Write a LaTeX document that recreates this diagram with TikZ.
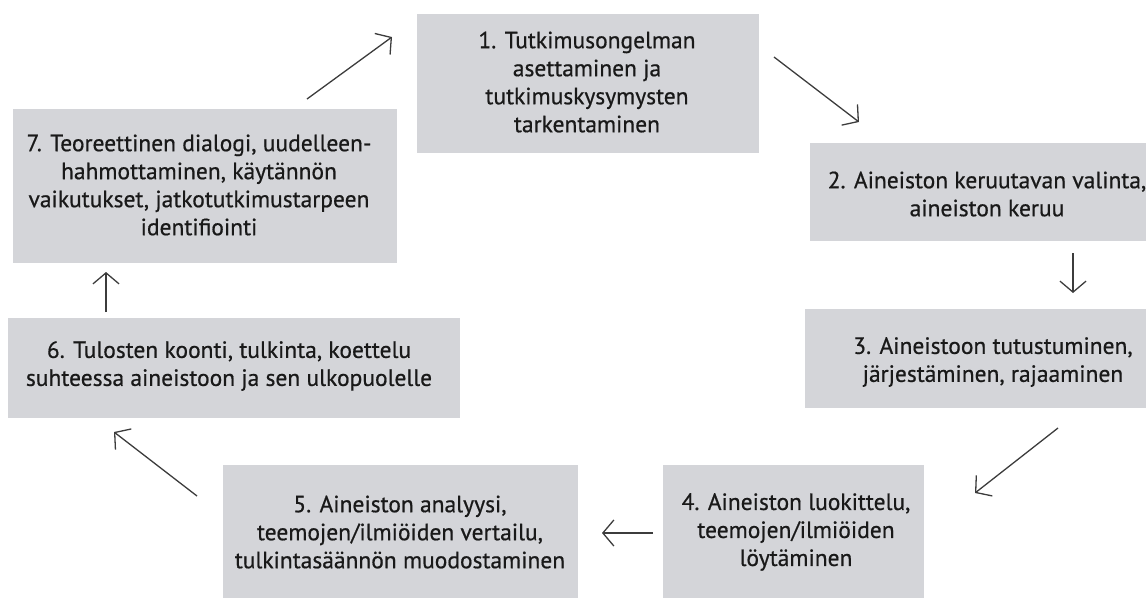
\documentclass[tikz,border=0pt]{standalone}
\usepackage{fontspec}
\setmainfont{PT Sans}[RawFeature={embolden=0.6}]
\usetikzlibrary{arrows.meta}
\definecolor{boxgrey}{RGB}{212,213,217}
\definecolor{txt}{RGB}{25,25,25}
\definecolor{arr}{RGB}{60,60,60}
\tikzset{
  stepbox/.style={fill=boxgrey, draw=none},
  steptext/.style={align=center, inner sep=0pt, text=txt, font=\fontsize{23.5}{28}\selectfont},
  cyc/.style={draw=arr, line width=1.3pt, -{Straight Barb[length=11pt,width=26pt,line width=1.3pt]}}
}
\begin{document}
\begin{tikzpicture}[x=1pt,y=-1pt]
\useasboundingbox (0,0) rectangle (1146,598);
% boxes
\fill[stepbox] (417,14) rectangle (759,153);
\fill[stepbox] (810,143) rectangle (1146,241);
\fill[stepbox] (805,309) rectangle (1146,408);
\fill[stepbox] (663,465) rectangle (924,598);
\fill[stepbox] (223,465) rectangle (578,598);
\fill[stepbox] (8,318) rectangle (460,418);
\fill[stepbox] (13,109) rectangle (397,263);
% texts
\node[steptext] (s1) at (587,82) {1. Tutkimusongelman\\asettaminen ja\\tutkimuskysymysten\\tarkentaminen};
\node[steptext] (s2) at (987,194) {2. Aineiston keruutavan valinta,\\aineiston keruu};
\node[steptext] (s3) at (993,362) {3. Aineistoon tutustuminen,\\järjestäminen, rajaaminen};
\node[steptext] (s4) at (796,532) {4. Aineiston luokittelu,\\teemojen/ilmiöiden\\löytäminen};
\node[steptext] (s5) at (400,532) {5. Aineiston analyysi,\\teemojen/ilmiöiden vertailu,\\tulkintasäännön muodostaminen};
\node[steptext] (s6) at (229,366) {6. Tulosten koonti, tulkinta, koettelu\\suhteessa aineistoon ja sen ulkopuolelle};
\node[steptext] (s7) at (199,185) {7. Teoreettinen dialogi, uudelleen-\\hahmottaminen, käytännön\\vaikutukset, jatkotutkimustarpeen\\identifiointi};
% arrow end points
\coordinate (a12s) at (774,57);   \coordinate (a12e) at (859,122);
\coordinate (a23s) at (1073,253); \coordinate (a23e) at (1073,293);
\coordinate (a34s) at (1058,428); \coordinate (a34e) at (975,493);
\coordinate (a45s) at (653,533);  \coordinate (a45e) at (602,533);
\coordinate (a56s) at (197,496);  \coordinate (a56e) at (114,432);
\coordinate (a67s) at (106,312);  \coordinate (a67e) at (106,272);
\coordinate (a71s) at (307,99);   \coordinate (a71e) at (392,37);
\draw[cyc] (a12s) -- (a12e);
\draw[cyc] (a23s) -- (a23e);
\draw[cyc] (a34s) -- (a34e);
\draw[cyc] (a45s) -- (a45e);
\draw[cyc] (a56s) -- (a56e);
\draw[cyc] (a67s) -- (a67e);
\draw[cyc] (a71s) -- (a71e);
\end{tikzpicture}
\end{document}
